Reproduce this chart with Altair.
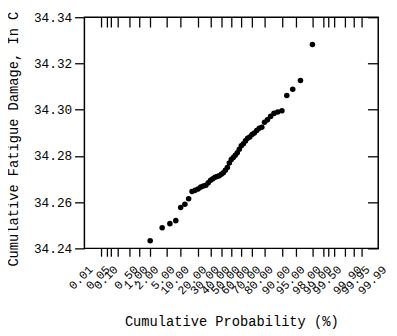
import altair as alt
import pandas as pd
from statistics import NormalDist

# Plotting positions (cumulative probability, %) and sorted damage values
prob_pct = [2, 4, 6, 8, 10, 12, 14, 16, 18, 20, 22, 24, 26, 28, 30, 32, 34, 36, 38, 40,
            42, 44, 46, 48, 50, 52, 54, 56, 58, 60, 62, 64, 66, 68, 70, 72, 74, 76, 78, 80,
            82, 84, 86, 88, 90, 92, 94, 96, 98]
damage = [34.2433, 34.2489, 34.2507, 34.2520, 34.2577, 34.2591, 34.2615, 34.2646, 34.2651, 34.2657,
          34.2665, 34.2670, 34.2673, 34.2684, 34.2695, 34.2701, 34.2708, 34.2711, 34.2714, 34.2721,
          34.2727, 34.2738, 34.2750, 34.2769, 34.2784, 34.2793, 34.2803, 34.2814, 34.2829, 34.2844,
          34.2853, 34.2865, 34.2876, 34.2882, 34.2893, 34.2899, 34.2910, 34.2920, 34.2924, 34.2946,
          34.2956, 34.2971, 34.2984, 34.2990, 34.2995, 34.3061, 34.3088, 34.3126, 34.3282]

label_pcts = [0.01, 0.05, 0.10, 0.50, 1.00, 2.00, 5.00, 10.00, 20.00, 30.00, 40.00, 50.00,
              60.00, 70.00, 80.00, 90.00, 95.00, 98.00, 99.00, 99.50, 99.90, 99.95, 99.99]
tick_pcts = [0.05, 0.084, 0.117, 0.2, 0.5, 1, 2, 5, 10, 20, 30, 40, 50, 60, 70, 80, 90,
             95, 98, 99, 99.3, 99.55, 99.8, 99.9, 99.95]
y_ticks = [34.24, 34.26, 34.28, 34.30, 34.32, 34.34]

nd = NormalDist()
z_labels = [nd.inv_cdf(p / 100) for p in label_pcts]
z_ticks = [nd.inv_cdf(p / 100) for p in tick_pcts]
z_min = nd.inv_cdf(0.0001)
z_max = nd.inv_cdf(0.9999)

df = pd.DataFrame({"p": prob_pct, "v": damage})

FONT = "Liberation Mono"
W, H = 300, 236

xscale = alt.Scale(domain=[z_min, z_max], nice=False, zero=False)
yscale = alt.Scale(domain=[34.24, 34.34], nice=False, zero=False)

base = alt.Chart(df).transform_calculate(z="quantileNormal(datum.p / 100)")

points = base.mark_circle(size=32, color="black", opacity=1).encode(
    x=alt.X("z:Q", scale=xscale, axis=alt.Axis(
        orient="bottom", values=z_labels,
        labelExpr="format(cumulativeNormal(datum.value) * 100, '.2f')",
        labelAngle=315, labelAlign="right", labelBaseline="middle",
        labelOverlap=False, labelFlush=False, labelBound=False,
        ticks=False, tickSize=0, domain=False, grid=False,
        labelPadding=19, labelOffset=6, labelFont=FONT, labelFontSize=12,
        title="Cumulative Probability (%)", titleFont=FONT, titleFontSize=14,
        titleFontWeight="normal", titleY=68, titleBaseline="top")),
    y=alt.Y("v:Q", scale=yscale, axis=alt.Axis(
        orient="left", values=y_ticks, format=".2f",
        tickSize=10, domain=False, grid=False, labelPadding=3,
        labelFont=FONT, labelFontSize=13,
        title="Cumulative Fatigue Damage, In C", titleFont=FONT, titleFontSize=14,
        titleFontWeight="normal", titleX=-72, titleY=124, titleBaseline="middle")),
)

ticks_bottom_right = base.mark_circle(opacity=0).encode(
    x=alt.X("z:Q", scale=xscale, axis=alt.Axis(
        orient="bottom", values=z_ticks, labels=False, tickSize=8,
        domain=False, grid=False, title=None)),
    y=alt.Y("v:Q", scale=yscale, axis=alt.Axis(
        orient="left", offset=-W, values=y_ticks, labels=False, tickSize=11,
        domain=False, grid=False, title=None)),
)

ticks_top = base.mark_circle(opacity=0).encode(
    x=alt.X("z:Q", scale=xscale, axis=alt.Axis(
        orient="bottom", offset=-H, values=z_ticks, labels=False, tickSize=10,
        domain=False, grid=False, title=None)),
    y=alt.Y("v:Q", scale=yscale, axis=None),
)

chart = alt.layer(points, ticks_bottom_right, ticks_top).resolve_axis(
    x="independent", y="independent"
).properties(
    width=W, height=H,
    autosize=alt.AutoSizeParams(type="none"),
    padding={"left": 78, "top": 6, "right": 11, "bottom": 84},
    background="white",
).configure_view(
    stroke="black", strokeWidth=1.5
).configure_axis(
    tickColor="black", tickWidth=1.3, labelColor="black", titleColor="black"
)

chart.save("out.html", embed_options={"renderer": "svg", "actions": False})
